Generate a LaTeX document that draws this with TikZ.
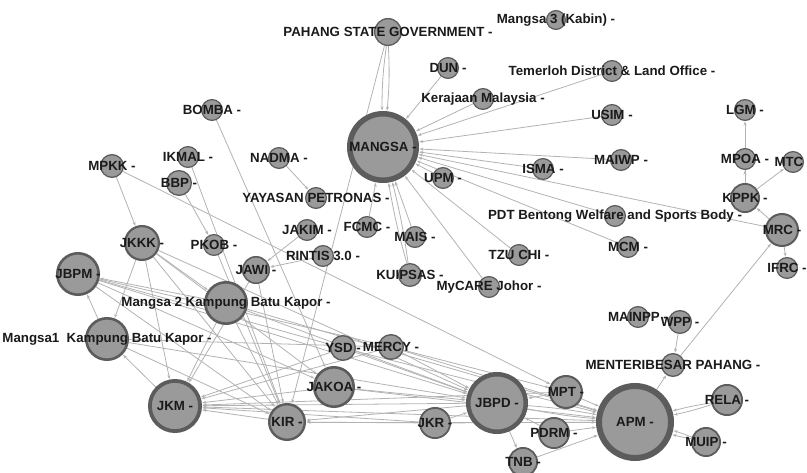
\documentclass[tikz,border=0pt]{standalone}
\usepackage{fontspec}
\setmainfont{Liberation Sans}
\usetikzlibrary{arrows.meta,backgrounds}
\definecolor{nfill}{HTML}{9A9A9A}
\definecolor{nbord}{HTML}{5C5C5C}
\definecolor{edgec}{HTML}{B2B2B2}
\definecolor{txt}{HTML}{1A1A1A}
\tikzset{
  nd/.style={circle,fill=nfill,draw=nbord,inner sep=0pt},
  lbl/.style={inner sep=0pt,text=txt,font=\fontsize{13.3}{15}\selectfont\bfseries},
  edge/.style={draw=edgec,line width=0.8pt,-{Stealth[length=4pt,width=3pt]},shorten >=0.5pt},
}
\newcommand\gn[5]{\node[nd,minimum size={(2*#4-#5)*1pt},line width=#5pt] (#1) at (#2,#3) {};}
\newcommand\gl[2]{\node[lbl] (l#1) at (#1.center) {#2};}
\newcommand\ed[2]{\draw[edge] (#1) -- (#2);}
\newcommand\edb[3]{\draw[edge] (#1) to[bend left=#3] (#2);}
\begin{document}
\begin{tikzpicture}[x=1pt,y=-1pt]
\useasboundingbox (0,0) rectangle (807,473);
% ---- nodes ----
\gn{psg}{388}{32}{14}{1.3}
\gn{mk3}{556}{20}{10}{1.2}
\gn{dun}{448}{68}{11}{1.2}
\gn{tem}{612}{71}{11}{1.2}
\gn{ker}{483}{99}{11}{1.2}
\gn{mangsa}{383}{147}{36}{5.5}
\gn{usim}{612}{115}{11}{1.2}
\gn{lgm}{745}{110}{11}{1.2}
\gn{mpoa}{745}{159}{11}{1.2}
\gn{mtc}{793}{162}{11}{1.2}
\gn{kppk}{745}{198}{15}{1.8}
\gn{mrc}{782}{230}{17}{2}
\gn{maiwp}{621}{160}{11}{1.2}
\gn{isma}{543}{169}{11}{1.2}
\gn{upm}{443}{178}{11}{1.2}
\gn{pdt}{615}{216}{11}{1.2}
\gn{mcm}{628}{247}{11}{1.2}
\gn{tzu}{519}{255}{11}{1.2}
\gn{mycare}{489}{287}{11}{1.2}
\gn{mais}{415}{237}{11}{1.2}
\gn{kuipsas}{410}{275}{12}{1.3}
\gn{fcmc}{367}{227}{11}{1.2}
\gn{yp}{316}{198}{11}{1.2}
\gn{nadma}{279}{158}{11}{1.2}
\gn{jakim}{307}{230}{11}{1.2}
\gn{rintis}{323}{256}{11}{1.2}
\gn{jawi}{256}{270}{14}{1.5}
\gn{pkob}{214}{245}{11}{1.2}
\gn{bbp}{179}{183}{13}{1.3}
\gn{ikmal}{188}{157}{11}{1.2}
\gn{bomba}{212}{110}{11}{1.2}
\gn{mpkk}{112}{166}{12}{1.3}
\gn{jkkk}{142}{243}{18}{2.2}
\gn{jbpm}{78}{274}{22}{2.6}
\gn{mgb}{226}{303}{22}{2.6}
\gn{mga}{107}{339}{22}{2.6}
\gn{jkm}{175}{406}{27}{3.8}
\gn{kir}{287}{422}{19}{2.4}
\gn{jakoa}{334}{387}{21}{2.6}
\gn{ysd}{343}{348}{13}{1.4}
\gn{mercy}{391}{347}{13}{1.4}
\gn{jkr}{435}{423}{16}{1.8}
\gn{jbpd}{497}{403}{31}{4.5}
\gn{mpt}{566}{392}{17}{2}
\gn{pdrm}{554}{433}{16}{1.8}
\gn{tnb}{523}{462}{15}{1.8}
\gn{apm}{635}{422}{39}{6}
\gn{mb}{673}{365}{12}{1.3}
\gn{wpp}{680}{322}{12}{1.3}
\gn{mainpp}{638}{317}{11}{1.2}
\gn{rela}{727}{400}{16}{1.8}
\gn{muip}{706}{442}{15}{1.8}
\gn{ifrc}{787}{268}{11}{1.2}
% ---- edges ----
\begin{scope}[on background layer]
\edb{psg}{mangsa}{4}
\edb{psg}{mangsa}{-4}
\ed{psg}{kir}
\ed{dun}{mangsa}
\ed{ker}{mangsa}
\ed{tem}{mangsa}
\ed{usim}{mangsa}
\ed{maiwp}{mangsa}
\ed{isma}{mangsa}
\ed{mrc}{mangsa}
\ed{pdt}{mangsa}
\ed{mcm}{mangsa}
\ed{upm}{mangsa}
\ed{tzu}{mangsa}
\ed{mycare}{mangsa}
\ed{mais}{mangsa}
\edb{kuipsas}{mangsa}{3}
\edb{kuipsas}{mangsa}{-3}
\ed{fcmc}{mangsa}
\ed{nadma}{yp}
\ed{kppk}{lgm}
\ed{kppk}{mpoa}
\ed{kppk}{mtc}
\ed{mrc}{kppk}
\ed{mrc}{ifrc}
\ed{mb}{mrc}
\ed{wpp}{mb}
\ed{apm}{mb}
\edb{rela}{apm}{3}
\edb{rela}{apm}{-3}
\edb{muip}{apm}{3}
\edb{muip}{apm}{-3}
\ed{mpt}{apm}
\ed{pdrm}{apm}
\ed{tnb}{apm}
\edb{jbpd}{apm}{3}
\edb{jbpd}{apm}{-3}
\ed{jbpd}{tnb}
\ed{mpkk}{mpt}
\ed{mpkk}{jkkk}
\ed{bomba}{jakoa}
\ed{ikmal}{kir}
\ed{bbp}{pkob}
\ed{pkob}{kir}
\ed{jakim}{jawi}
\ed{rintis}{jawi}
\ed{jawi}{jkm}
\ed{mga}{jbpm}
\ed{jkkk}{mga}
\ed{jkkk}{jkm}
\ed{jkm}{mga}
\ed{mgb}{jkm}
\ed{mgb}{jbpm}
\ed{jbpm}{ysd}
\ed{jbpm}{mercy}
\ed{jbpm}{jbpd}
\ed{jbpm}{jakoa}
\ed{jbpm}{kir}
\ed{jkkk}{mgb}
\ed{jkkk}{kir}
\ed{jkkk}{jakoa}
\ed{jkkk}{jbpd}
\ed{mga}{jbpd}
\ed{mga}{kir}
\ed{mga}{mercy}
\ed{ysd}{jkm}
\ed{mercy}{jkm}
\ed{jakoa}{jkm}
\ed{kir}{jkm}
\ed{jkr}{jkm}
\ed{jbpd}{jkm}
\ed{apm}{jkm}
\ed{mpt}{jkm}
\ed{jbpd}{kir}
\ed{jkr}{kir}
\ed{apm}{kir}
\ed{mgb}{kir}
\ed{jawi}{kir}
\ed{jakoa}{jbpd}
\ed{jakoa}{apm}
\ed{ysd}{jbpd}
\ed{ysd}{apm}
\ed{mercy}{jbpd}
\ed{mercy}{apm}
\ed{mercy}{mpt}
\ed{jkr}{jbpd}
\ed{jkr}{apm}
\ed{mpt}{jbpd}
\ed{pdrm}{jbpd}
\ed{mgb}{jbpd}
\ed{mgb}{apm}
\end{scope}
% ---- labels ----
\gl{psg}{PAHANG STATE GOVERNMENT -}
\gl{mk3}{Mangsa 3 (Kabin) -}
\gl{dun}{DUN -}
\gl{tem}{Temerloh District \& Land Office -}
\gl{ker}{Kerajaan Malaysia -}
\gl{mangsa}{MANGSA -}
\gl{usim}{USIM -}
\gl{lgm}{LGM -}
\gl{mpoa}{MPOA -}
\gl{mtc}{MTC -}
\gl{kppk}{KPPK -}
\gl{mrc}{MRC -}
\gl{maiwp}{MAIWP -}
\gl{isma}{ISMA -}
\gl{upm}{UPM -}
\gl{pdt}{PDT Bentong Welfare and Sports Body -}
\gl{mcm}{MCM -}
\gl{tzu}{TZU CHI -}
\gl{mycare}{MyCARE Johor -}
\gl{mais}{MAIS -}
\gl{kuipsas}{KUIPSAS -}
\gl{fcmc}{FCMC -}
\gl{yp}{YAYASAN PETRONAS -}
\gl{nadma}{NADMA -}
\gl{jakim}{JAKIM -}
\gl{rintis}{RINTIS 3.0 -}
\gl{jawi}{JAWI -}
\gl{pkob}{PKOB -}
\gl{bbp}{BBP -}
\gl{ikmal}{IKMAL -}
\gl{bomba}{BOMBA -}
\gl{mpkk}{MPKK -}
\gl{jkkk}{JKKK -}
\gl{jbpm}{JBPM -}
\gl{mgb}{Mangsa 2 Kampung Batu Kapor -}
\gl{mga}{Mangsa1\ \ Kampung Batu Kapor -}
\gl{jkm}{JKM -}
\gl{kir}{KIR -}
\gl{jakoa}{JAKOA -}
\gl{ysd}{YSD -}
\gl{mercy}{MERCY -}
\gl{jkr}{JKR -}
\gl{jbpd}{JBPD -}
\gl{mpt}{MPT -}
\gl{pdrm}{PDRM -}
\gl{tnb}{TNB -}
\gl{apm}{APM -}
\gl{mb}{MENTERIBESAR PAHANG -}
\gl{wpp}{WPP -}
\gl{mainpp}{MAINPP -}
\gl{rela}{RELA -}
\gl{muip}{MUIP -}
\gl{ifrc}{IFRC -}
\end{tikzpicture}
\end{document}
